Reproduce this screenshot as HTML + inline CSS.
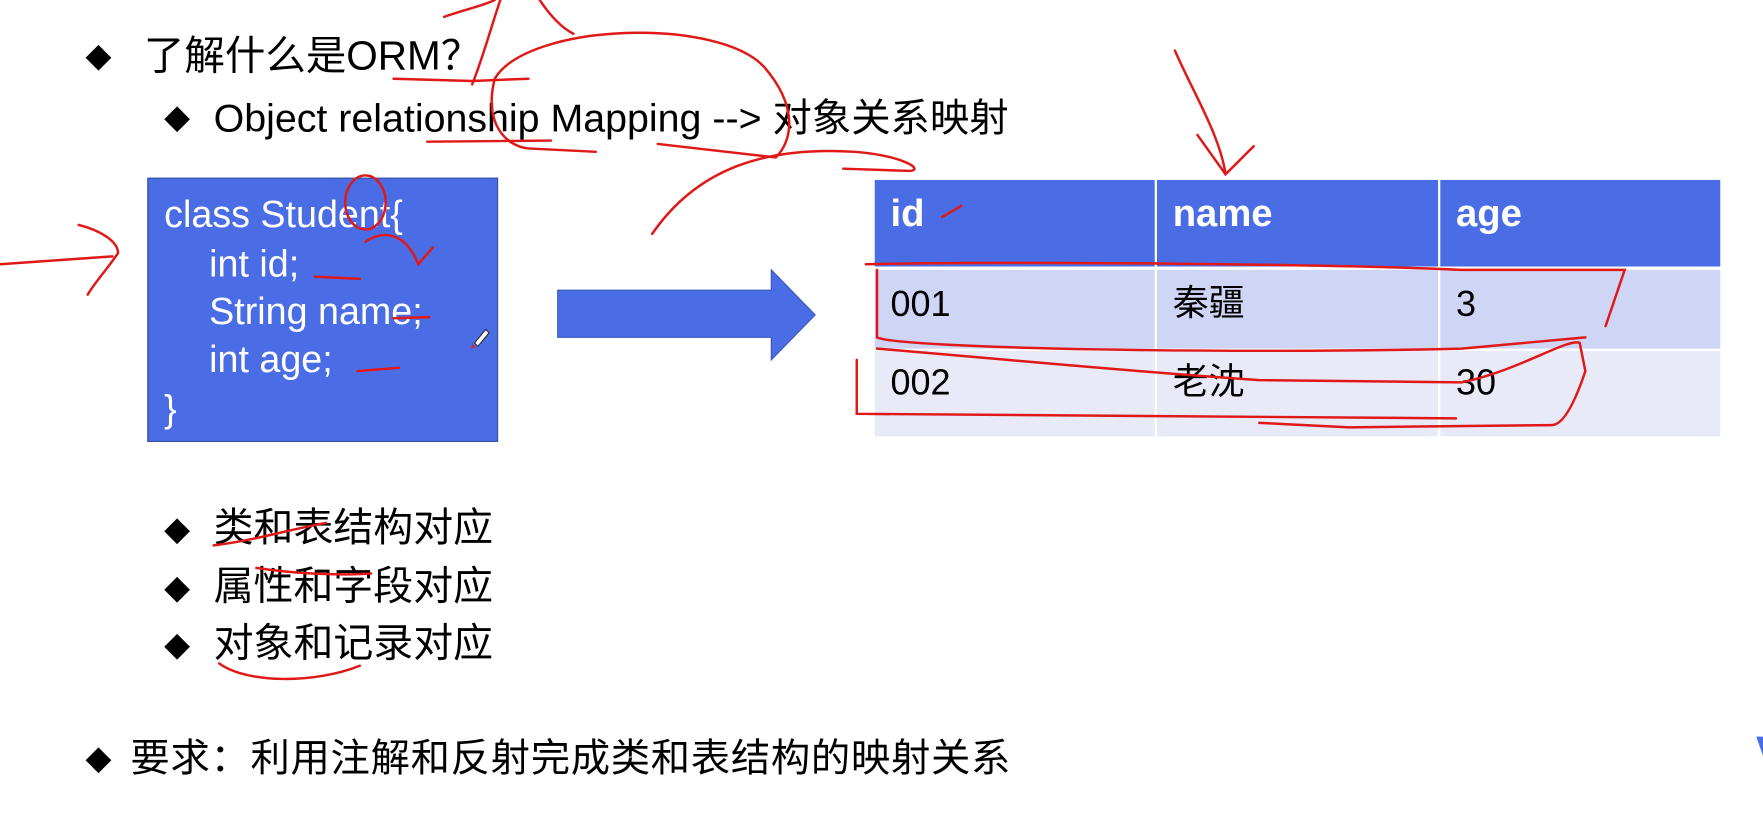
<!DOCTYPE html>
<html><head><meta charset="utf-8"><style>
html,body{margin:0;padding:0;background:#fff;width:1763px;height:813px;overflow:hidden}
#w{position:absolute;left:0;top:0;width:1568px;height:723px;transform:scale(1.12436,1.12454);transform-origin:0 0;font-family:"Liberation Sans","Noto Sans CJK SC",sans-serif}
.t{position:absolute;white-space:nowrap;line-height:1}
.d{position:absolute;font-family:"DejaVu Sans",sans-serif;font-size:30px;line-height:1}
#box{position:absolute;left:131px;top:158px;width:312px;height:235px;background:#4a6de5;border:1px solid #34509f;box-sizing:border-box}
.c{position:absolute;color:#fff;font-size:33.5px;white-space:nowrap;line-height:1}
.h{position:absolute;color:#fff;font-weight:bold;font-size:34px;line-height:1}
.r{position:absolute;color:#000;font-size:32px;line-height:1}
</style></head><body><div id="w">
<div class="d" style="left:76px;top:35px">◆</div>
<div class="t" style="left:128px;top:32px;font-size:36px">了解什么是ORM？</div>
<div class="d" style="left:146px;top:90px">◆</div>
<div class="t" style="left:190px;top:88px;font-size:35px">Object relationship Mapping --&gt; 对象关系映射</div>

<div id="box">
<div class="c" style="left:14px;top:16px">class Student{</div>
<div class="c" style="left:54px;top:60px">int id;</div>
<div class="c" style="left:54px;top:102px">String name;</div>
<div class="c" style="left:54px;top:145px">int age;</div>
<div class="c" style="left:14px;top:189px">}</div>
</div>

<svg style="position:absolute;left:0;top:0" width="1568" height="723">
<polygon points="496,258 686,258 686,240 725,280 686,320 686,300 496,300" fill="#4a6de5" stroke="#3a58b8" stroke-width="1"/>
<rect x="778" y="160" width="249" height="77" fill="#4a6de5"/>
<rect x="1029" y="160" width="250" height="77" fill="#4a6de5"/>
<rect x="1281" y="160" width="249" height="77" fill="#4a6de5"/>
<rect x="778" y="240" width="249" height="70" fill="#cfd5f4"/>
<rect x="1029" y="240" width="250" height="70" fill="#cfd5f4"/>
<rect x="1281" y="240" width="249" height="70" fill="#cfd5f4"/>
<rect x="778" y="312" width="249" height="76" fill="#e8eaf8"/>
<rect x="1029" y="312" width="250" height="76" fill="#e8eaf8"/>
<rect x="1281" y="312" width="249" height="76" fill="#e8eaf8"/>
<path d="M1562,655 L1568,672 L1568,655" fill="#4a6de5"/>
<path d="M422,305 L432,293 L435,296 L425,308 Z" fill="#fff" stroke="#333" stroke-width="1"/>
<path d="M420,306 L423,309 L419,310 Z" fill="#e02020"/>
</svg>

<div class="h" style="left:792px;top:173px">id</div>
<div class="h" style="left:1043px;top:173px">name</div>
<div class="h" style="left:1295px;top:173px">age</div>
<div class="r" style="left:792px;top:254px">001</div>
<div class="r" style="left:1043px;top:253px">秦疆</div>
<div class="r" style="left:1295px;top:254px">3</div>
<div class="r" style="left:792px;top:324px">002</div>
<div class="r" style="left:1043px;top:323px">老沈</div>
<div class="r" style="left:1295px;top:324px">30</div>

<div class="d" style="left:146px;top:456px">◆</div>
<div class="t" style="left:190px;top:452px;font-size:35.5px">类和表结构对应</div>
<div class="d" style="left:146px;top:508px">◆</div>
<div class="t" style="left:190px;top:504px;font-size:35.5px">属性和字段对应</div>
<div class="d" style="left:146px;top:559px">◆</div>
<div class="t" style="left:190px;top:555px;font-size:35.5px">对象和记录对应</div>
<div class="d" style="left:76px;top:660px">◆</div>
<div class="t" style="left:116px;top:657px;font-size:35px;letter-spacing:0.6px">要求：利用注解和反射完成类和表结构的映射关系</div>

<svg style="position:absolute;left:0;top:0" width="1568" height="723" fill="none" stroke="#e01818" stroke-width="2.2" stroke-linecap="round">
<path d="M395,15 C415,8 430,5 440,0"/>
<path d="M420,75 C430,50 438,20 445,0"/>
<path d="M480,0 C490,15 500,25 510,30"/>
<path d="M350,70 L420,72 L470,70"/>
<path d="M440,70 C470,20 640,15 680,60 C710,95 705,125 690,140 L585,128"/>
<path d="M440,70 C430,110 450,130 470,132 L530,135"/>
<path d="M380,126 L490,125"/>
<path d="M580,208 C620,150 680,130 760,135 C800,138 822,150 810,152 L750,150"/>
<path d="M1045,45 C1060,80 1085,120 1090,155 M1065,120 L1090,155 L1115,130"/>
<path d="M0,235 C40,232 70,230 100,228 M70,200 C90,205 105,215 105,225 C95,240 85,250 78,262"/>
<ellipse cx="325" cy="180" rx="18" ry="24"/>
<path d="M325,215 C340,205 360,205 372,235 L385,220"/>
<path d="M280,246 L320,248 M350,283 L382,282 M318,330 L355,327"/>
<path d="M838,193 L855,183"/>
<path d="M770,235 C900,232 1200,235 1300,240 L1445,240 L1428,290"/>
<path d="M780,240 L780,300 C800,310 1100,315 1300,310 L1410,300"/>
<path d="M762,320 L762,368 L1295,372"/>
<path d="M780,310 C900,320 1000,330 1120,338 L1300,340 C1350,330 1395,300 1405,305 L1410,330 C1400,360 1390,378 1380,378 L1200,380 L1120,376"/>
<path d="M190,485 C230,480 260,470 290,465"/>
<path d="M228,505 C260,510 300,512 330,510"/>
<path d="M195,590 C220,608 280,608 320,592"/>
</svg>
</div></body></html>
